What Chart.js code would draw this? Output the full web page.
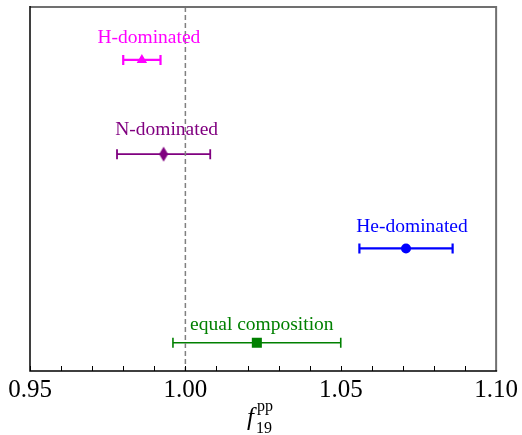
<!DOCTYPE html>
<html>
<head>
<meta charset="utf-8">
<script src="https://cdn.jsdelivr.net/npm/chart.js@4/dist/chart.umd.min.js"></script>
<style>
  html, body { margin: 0; padding: 0; background: #fff; }
  #wrap { width: 522px; height: 435px; }
</style>
</head>
<body>
<div id="wrap"><canvas id="c" width="522" height="435"></canvas></div>
<script>
// Composition scenarios, bottom row first
const categories = ['equal composition', 'He-dominated', 'N-dominated', 'H-dominated'];
const rowIndex = [0, 1, 2, 3];
const f19pp = [1.023, 1.071, 0.993, 0.986];
const f19ppErr = [0.027, 0.015, 0.015, 0.006];
const tickLabels = ['0.95', '1.00', '1.05', '1.10'];
const referenceValue = 1.00;

// Styling per scenario
const colors = ['#008000', '#0000ff', '#800080', '#ff00ff'];
const markers = ['rect', 'circle', 'diamond', 'triangle'];
const markerRadius = [7.1, 5, 7, 6];
const barWidths = [1.6, 2.2, 1.8, 2.2];
const labelShift = [[5, -13], [6, -16], [3, -19], [7, -17]];

const SERIF = '"Liberation Serif", "Times New Roman", serif';

function tallDiamond(color) {
  const cv = document.createElement('canvas');
  cv.width = 10; cv.height = 16;
  const g = cv.getContext('2d');
  g.fillStyle = color;
  g.beginPath();
  g.moveTo(5, 0.5); g.lineTo(9.5, 8); g.lineTo(5, 15.5); g.lineTo(0.5, 8);
  g.closePath(); g.fill();
  return cv;
}

const datasets = categories.map((name, i) => ({
  label: name,
  data: [{ x: f19pp[i], y: rowIndex[i] }],
  backgroundColor: colors[i],
  borderColor: colors[i],
  borderWidth: 0,
  pointStyle: markers[i] === 'diamond' ? tallDiamond(colors[i]) : markers[i],
  pointRadius: markerRadius[i],
  pointHoverRadius: markerRadius[i]
}));

// Horizontal error bars with end caps, reference line, names, frame and axis title
const errorBars = {
  id: 'errorBars',
  beforeDatasetsDraw(chart) {
    const { ctx, scales: { x, y } } = chart;
    ctx.save();
    categories.forEach((_, i) => {
      const py = y.getPixelForValue(rowIndex[i]);
      const x0 = x.getPixelForValue(f19pp[i] - f19ppErr[i]);
      const x1 = x.getPixelForValue(f19pp[i] + f19ppErr[i]);
      ctx.strokeStyle = colors[i];
      ctx.lineWidth = barWidths[i];
      ctx.beginPath();
      ctx.moveTo(x0, py); ctx.lineTo(x1, py);
      ctx.moveTo(x0, py - 5); ctx.lineTo(x0, py + 5);
      ctx.moveTo(x1, py - 5); ctx.lineTo(x1, py + 5);
      ctx.stroke();
    });
    ctx.restore();
  },
  afterDatasetsDraw(chart) {
    const { ctx, chartArea: a, scales: { x, y } } = chart;
    ctx.save();
    const rx = x.getPixelForValue(referenceValue);
    ctx.strokeStyle = '#808080';
    ctx.lineWidth = 1.5;
    ctx.setLineDash([5, 3]);
    ctx.beginPath();
    ctx.moveTo(rx, a.top); ctx.lineTo(rx, a.bottom);
    ctx.stroke();
    ctx.setLineDash([]);
    ctx.font = '19.5px ' + SERIF;
    ctx.textAlign = 'center';
    ctx.textBaseline = 'alphabetic';
    categories.forEach((name, i) => {
      const px = x.getPixelForValue(f19pp[i]) + labelShift[i][0];
      const py = y.getPixelForValue(rowIndex[i]) + labelShift[i][1];
      ctx.fillStyle = colors[i];
      ctx.fillText(name, px, py);
    });
    ctx.restore();
  },
  afterDraw(chart) {
    const { ctx, chartArea: a, scales: { x } } = chart;
    ctx.save();
    ctx.strokeStyle = '#000';
    ctx.lineWidth = 1;
    x.ticks.forEach(t => {
      const px = Math.round(x.getPixelForValue(t.value)) + 0.5;
      ctx.beginPath();
      ctx.moveTo(px, a.bottom); ctx.lineTo(px, a.bottom - 5);
      ctx.stroke();
    });
    ctx.strokeStyle = '#707070';
    ctx.lineWidth = 2;
    ctx.beginPath();
    ctx.moveTo(a.left, a.top); ctx.lineTo(a.right, a.top); ctx.lineTo(a.right, a.bottom);
    ctx.stroke();
    ctx.strokeStyle = '#000';
    ctx.lineWidth = 1.5;
    ctx.beginPath();
    ctx.moveTo(a.left, a.top - 1); ctx.lineTo(a.left, a.bottom); ctx.lineTo(a.right + 1, a.bottom);
    ctx.stroke();
    ctx.fillStyle = '#000';
    ctx.textAlign = 'left';
    ctx.textBaseline = 'alphabetic';
    ctx.font = 'italic 25px ' + SERIF;
    ctx.fillText('f', 247, 425);
    ctx.font = '16px ' + SERIF;
    ctx.fillText('pp', 257, 411);
    ctx.fillText('19', 256, 433);
    ctx.restore();
  }
};

new Chart(document.getElementById('c'), {
  type: 'scatter',
  data: { datasets },
  plugins: [errorBars],
  options: {
    responsive: false,
    animation: false,
    events: [],
    layout: { padding: { left: 30, right: 22, top: 6, bottom: 0 } },
    plugins: { legend: { display: false }, tooltip: { enabled: false } },
    scales: {
      x: {
        type: 'linear',
        min: 0.95,
        max: 1.10,
        afterBuildTicks(scale) {
          const out = [];
          for (let k = 95; k <= 110; k++) out.push({ value: k / 100 });
          scale.ticks = out;
        },
        afterFit(scale) { scale.height = 64; },
        border: { display: false },
        grid: { display: true, drawOnChartArea: false, drawTicks: false },
        ticks: {
          autoSkip: false,
          maxRotation: 0,
          padding: 4,
          color: '#000',
          font: { family: SERIF, size: 25 },
          callback(v) {
            const k = Math.round(v * 100);
            return k % 5 === 0 ? tickLabels[(k - 95) / 5] : '';
          }
        }
      },
      y: {
        type: 'linear',
        display: false,
        min: -0.3,
        max: 3.56
      }
    }
  }
});
</script>
</body>
</html>
